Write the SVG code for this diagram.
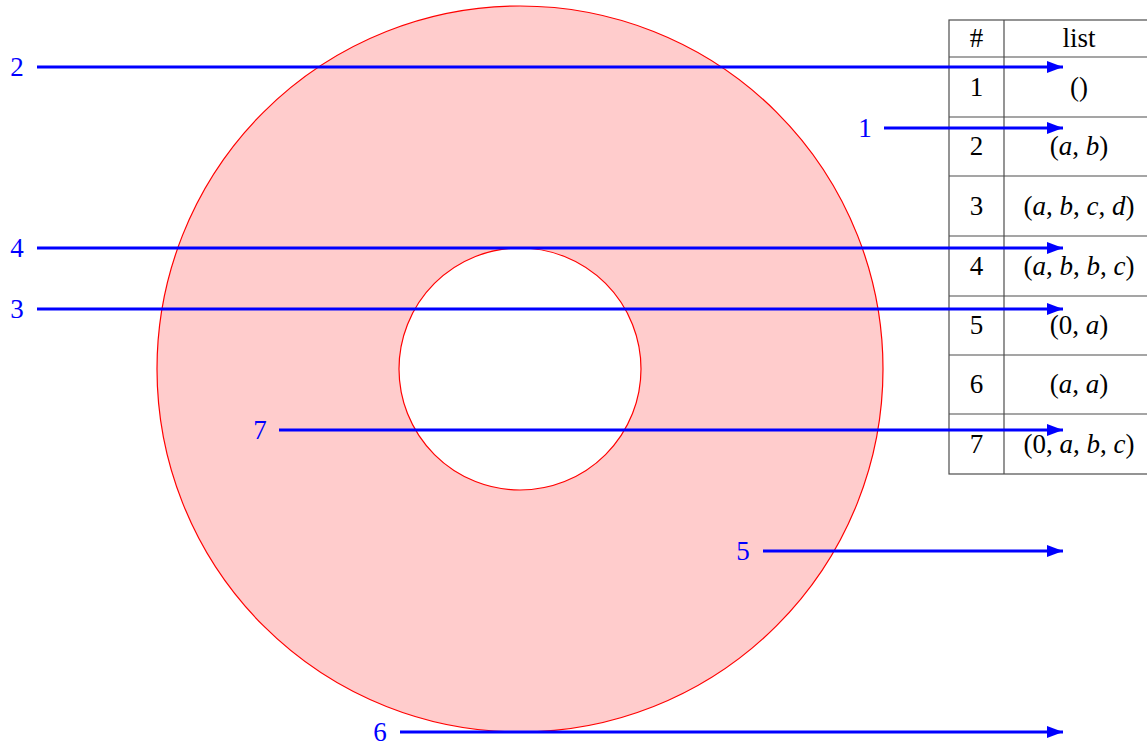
<svg xmlns="http://www.w3.org/2000/svg" width="1147" height="744" viewBox="0 0 1147 744">
<style>
.lbl{font-family:"Liberation Serif","DejaVu Serif",serif;font-size:27px;fill:#0000ff;text-anchor:middle}
.cell{font-family:"Liberation Serif","DejaVu Serif",serif;font-size:27px;fill:#000;text-anchor:middle}
.grid{stroke:#4d4d4d;stroke-width:1.2;fill:none}
.arr{stroke:#0000ff;stroke-width:3;fill:none;marker-end:url(#ah)}
</style>
<defs>
<marker id="ah" markerUnits="userSpaceOnUse" markerWidth="18" markerHeight="14" refX="16" refY="6" orient="auto">
<path d="M0,0 L16,6 L0,12 Z" fill="#0000ff"/>
</marker>
</defs>
<rect width="1147" height="744" fill="#fff"/>
<g id="ring">
<path d="M157,369 a363,363 0 1,0 726,0 a363,363 0 1,0 -726,0 Z M399,369 a121,121 0 1,1 242,0 a121,121 0 1,1 -242,0 Z" fill="#ffcccc" fill-rule="evenodd" stroke="#ff0000" stroke-width="1.2"/>
</g>
<g id="table">
<rect class="grid" x="949" y="20" width="210" height="454"/>
<line class="grid" x1="1004" y1="20" x2="1004" y2="474"/>
<line class="grid" x1="949" y1="57" x2="1159" y2="57"/>
<line class="grid" x1="949" y1="117" x2="1159" y2="117"/>
<line class="grid" x1="949" y1="176" x2="1159" y2="176"/>
<line class="grid" x1="949" y1="236" x2="1159" y2="236"/>
<line class="grid" x1="949" y1="296" x2="1159" y2="296"/>
<line class="grid" x1="949" y1="355" x2="1159" y2="355"/>
<line class="grid" x1="949" y1="414" x2="1159" y2="414"/>
<text class="cell" x="976.5" y="47">#</text>
<text class="cell" x="1079" y="47">list</text>
<text class="cell" x="976.5" y="96">1</text>
<text class="cell" x="1079" y="96">()</text>
<text class="cell" x="976.5" y="155">2</text>
<text class="cell" x="1079" y="155">(<tspan font-style="italic">a</tspan>, <tspan font-style="italic">b</tspan>)</text>
<text class="cell" x="976.5" y="215">3</text>
<text class="cell" x="1079" y="215">(<tspan font-style="italic">a</tspan>, <tspan font-style="italic">b</tspan>, <tspan font-style="italic">c</tspan>, <tspan font-style="italic">d</tspan>)</text>
<text class="cell" x="976.5" y="275">4</text>
<text class="cell" x="1079" y="275">(<tspan font-style="italic">a</tspan>, <tspan font-style="italic">b</tspan>, <tspan font-style="italic">b</tspan>, <tspan font-style="italic">c</tspan>)</text>
<text class="cell" x="976.5" y="334">5</text>
<text class="cell" x="1079" y="334">(0, <tspan font-style="italic">a</tspan>)</text>
<text class="cell" x="976.5" y="393">6</text>
<text class="cell" x="1079" y="393">(<tspan font-style="italic">a</tspan>, <tspan font-style="italic">a</tspan>)</text>
<text class="cell" x="976.5" y="453">7</text>
<text class="cell" x="1079" y="453">(0, <tspan font-style="italic">a</tspan>, <tspan font-style="italic">b</tspan>, <tspan font-style="italic">c</tspan>)</text>
</g>
<g id="connectors">
<line class="arr" x1="37" y1="67" x2="1063" y2="67"/>
<line class="arr" x1="884" y1="128" x2="1063" y2="128"/>
<line class="arr" x1="37" y1="248" x2="1063" y2="248"/>
<line class="arr" x1="37" y1="309" x2="1063" y2="309"/>
<line class="arr" x1="279" y1="430" x2="1063" y2="430"/>
<line class="arr" x1="763" y1="551" x2="1063" y2="551"/>
<line class="arr" x1="400" y1="732" x2="1063" y2="732"/>
</g>
<g id="labels">
<text class="lbl" x="17" y="76">2</text>
<text class="lbl" x="865" y="137">1</text>
<text class="lbl" x="17" y="257">4</text>
<text class="lbl" x="17" y="318">3</text>
<text class="lbl" x="260" y="439">7</text>
<text class="lbl" x="743" y="560">5</text>
<text class="lbl" x="380" y="741">6</text>
</g>
</svg>
